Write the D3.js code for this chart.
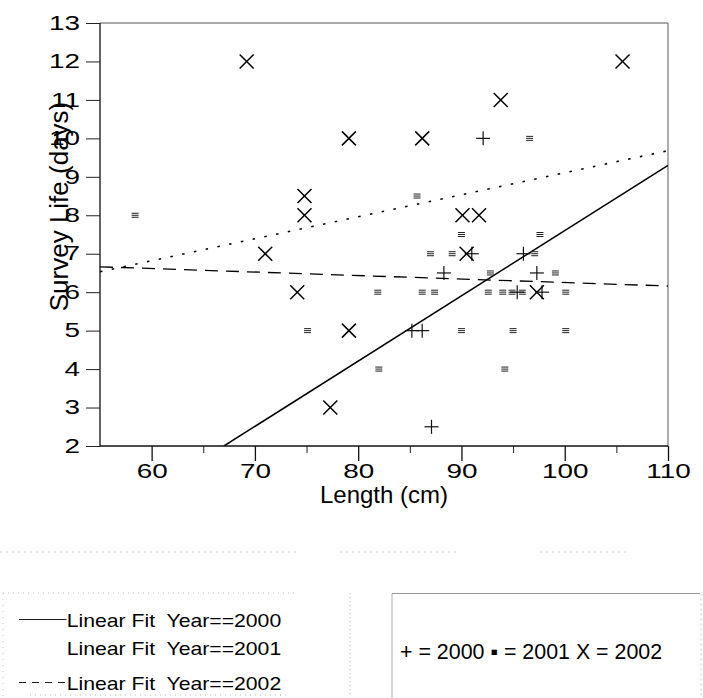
<!DOCTYPE html>
<html>
<head>
<meta charset="utf-8">
<script src="https://cdn.jsdelivr.net/npm/d3@7"></script>
<style>
  html, body { margin: 0; padding: 0; background: #fff; }
  svg { display: block; }
  text { font-family: "Liberation Sans", Arial, Helvetica, sans-serif; fill: #000; white-space: pre; }
</style>
</head>
<body>
<svg id="chart" width="703" height="698"></svg>
<script>
// ---------------- data ----------------
const xMajorTicks = [60, 70, 80, 90, 100, 110];
const xMinorTicks = [65, 75, 85, 95, 105];
const yTicks = [2, 3, 4, 5, 6, 7, 8, 9, 10, 11, 12, 13];

// Year 2000 (plus markers)
const y2000X = [92.1, 88.3, 85.2, 86.2, 87.1, 91.0, 96.0, 97.3, 95.4, 97.8];
const y2000Y = [10, 6.5, 5, 5, 2.5, 7, 7, 6.5, 6, 6];

// Year 2001 (small square markers)
const y2001X = [58.4, 85.7, 90.0, 97.6, 96.6, 87.0, 89.1, 97.1, 81.9, 86.2, 87.4, 92.8, 99.1, 92.6, 94.0, 94.9, 95.9, 100.1, 75.1, 90.0, 95.0, 100.1, 82.0, 94.2];
const y2001Y = [8, 8.5, 7.5, 7.5, 10, 7, 7, 7, 6, 6, 6, 6.5, 6.5, 6, 6, 6, 6, 6, 5, 5, 5, 5, 4, 4];

// Year 2002 (x markers)
const y2002X = [69.2, 105.6, 93.8, 79.1, 86.2, 74.8, 74.8, 90.1, 91.7, 71.0, 90.5, 74.1, 79.1, 77.3, 97.3];
const y2002Y = [12, 12, 11, 10, 10, 8.5, 8, 8, 8, 7, 7, 6, 5, 3, 6];

// Linear fits (end points)
const fit2000X = [67.0, 110];
const fit2000Y = [2.0, 9.3];
const fit2001X = [55, 110];
const fit2001Y = [6.53, 9.68];
const fit2002X = [55, 110];
const fit2002Y = [6.66, 6.16];

const fitLabels = ["Linear Fit  Year==2000", "Linear Fit  Year==2001", "Linear Fit  Year==2002"];
const markerLegend = "+ = 2000 \u25AA = 2001 X = 2002";

// ---------------- chart ----------------
const svg = d3.select("#chart");
const pLeft = 100, pRight = 668, pTop = 23, pBottom = 446;

const x = d3.scaleLinear().domain([55, 110]).range([pLeft, pRight]);
const y = d3.scaleLinear().domain([2, 13]).range([pBottom, pTop]);

svg.append("defs").append("clipPath").attr("id", "plotclip")
  .append("rect").attr("x", pLeft).attr("y", pTop)
  .attr("width", pRight - pLeft).attr("height", pBottom - pTop);

// frame: top & right gray
svg.append("line").attr("x1", pLeft).attr("x2", pRight).attr("y1", pTop).attr("y2", pTop)
  .attr("stroke", "#555").attr("stroke-width", 1);
svg.append("line").attr("x1", pRight).attr("x2", pRight).attr("y1", pTop).attr("y2", pBottom)
  .attr("stroke", "#777").attr("stroke-width", 1.2);

// y axis
const gy = svg.append("g").attr("transform", `translate(${pLeft},0)`)
  .call(d3.axisLeft(y).tickValues(yTicks).tickSize(14).tickPadding(6).tickSizeOuter(0).tickFormat(d3.format("d")));
gy.select(".domain").remove();
gy.selectAll(".tick line").attr("stroke", "#222").attr("stroke-width", 1);
gy.selectAll(".tick text")
  .style("font-size", "19.5px")
  .attr("x", -20 / 1.43)
  .attr("transform", "scale(1.43,1)");

// x axis major
const gx = svg.append("g").attr("transform", `translate(0,${pBottom})`)
  .call(d3.axisBottom(x).tickValues(xMajorTicks).tickSize(15).tickPadding(3).tickSizeOuter(0).tickFormat(d3.format("d")));
gx.select(".domain").remove();
gx.selectAll(".tick line").attr("stroke", "#111").attr("stroke-width", 1.3);
gx.selectAll(".tick text")
  .style("font-size", "19.5px")
  .attr("transform", "scale(1.43,1)");

// x minor
const gxm = svg.append("g").attr("transform", `translate(0,${pBottom})`)
  .call(d3.axisBottom(x).tickValues(xMinorTicks).tickSize(7).tickSizeOuter(0).tickFormat(""));
gxm.select(".domain").remove();
gxm.selectAll(".tick line").attr("stroke", "#222").attr("stroke-width", 1);

// axis lines
svg.append("line").attr("x1", pLeft).attr("x2", pLeft).attr("y1", pTop).attr("y2", pBottom)
  .attr("stroke", "#222").attr("stroke-width", 1.4);
svg.append("line").attr("x1", pLeft).attr("x2", pRight).attr("y1", pBottom).attr("y2", pBottom)
  .attr("stroke", "#111").attr("stroke-width", 1.4);

// titles
svg.append("text").attr("transform", `translate(68,206.5) rotate(-90)`)
  .attr("text-anchor", "middle").style("font-size", "26px").text("Survey Life (days)");
svg.append("text").attr("x", (pLeft + pRight) / 2).attr("y", 503)
  .attr("text-anchor", "middle").style("font-size", "24px").text("Length (cm)");

// fit lines
const plot = svg.append("g").attr("clip-path", "url(#plotclip)");
const line = d3.line().x(d => x(d[0])).y(d => y(d[1]));
plot.append("path").datum(d3.zip(fit2000X, fit2000Y)).attr("d", line)
  .attr("fill", "none").attr("stroke", "#000").attr("stroke-width", 1.5);
plot.append("path").datum(d3.zip(fit2001X, fit2001Y)).attr("d", line)
  .attr("fill", "none").attr("stroke", "#000").attr("stroke-width", 1.6)
  .attr("stroke-dasharray", "2.5,9.5");
plot.append("path").datum(d3.zip(fit2002X, fit2002Y)).attr("d", line)
  .attr("fill", "none").attr("stroke", "#000").attr("stroke-width", 1.3)
  .attr("stroke-dasharray", "13,8");

// markers
const m2001 = plot.append("g").selectAll("g").data(d3.zip(y2001X, y2001Y)).join("g")
  .attr("transform", d => `translate(${x(d[0])},${y(d[1])})`);
[-2, 0, 2].forEach(o => {
  m2001.append("line").attr("x1", -3.5).attr("x2", 3.5).attr("y1", o).attr("y2", o)
    .attr("stroke", "#222").attr("stroke-width", 1);
});
const m2000 = plot.append("g").selectAll("g").data(d3.zip(y2000X, y2000Y)).join("g")
  .attr("transform", d => `translate(${x(d[0])},${y(d[1])})`);
m2000.append("line").attr("x1", -7).attr("x2", 7).attr("y1", 0).attr("y2", 0).attr("stroke", "#111").attr("stroke-width", 1.2);
m2000.append("line").attr("x1", 0).attr("x2", 0).attr("y1", -7).attr("y2", 7).attr("stroke", "#111").attr("stroke-width", 1.2);
const m2002 = plot.append("g").selectAll("g").data(d3.zip(y2002X, y2002Y)).join("g")
  .attr("transform", d => `translate(${x(d[0])},${y(d[1])})`);
m2002.append("line").attr("x1", -7).attr("x2", 7).attr("y1", -7).attr("y2", 7).attr("stroke", "#000").attr("stroke-width", 1.5);
m2002.append("line").attr("x1", -7).attr("x2", 7).attr("y1", 7).attr("y2", -7).attr("stroke", "#000").attr("stroke-width", 1.5);

// ---------------- legends ----------------
// faint scan lines
[[0, 300], [340, 460], [540, 630]].forEach(s => {
  svg.append("line").attr("x1", s[0]).attr("x2", s[1]).attr("y1", 552).attr("y2", 552)
    .attr("stroke", "#ccc").attr("stroke-dasharray", "2,4");
});

// left legend box (faint)
svg.append("line").attr("x1", 3).attr("x2", 295).attr("y1", 593).attr("y2", 593)
  .attr("stroke", "#bbb").attr("stroke-dasharray", "1,4");
svg.append("line").attr("x1", 3).attr("x2", 3).attr("y1", 593).attr("y2", 697)
  .attr("stroke", "#ccc").attr("stroke-dasharray", "1,5");
svg.append("line").attr("x1", 350).attr("x2", 350).attr("y1", 593).attr("y2", 697)
  .attr("stroke", "#bbb").attr("stroke-dasharray", "1,3");
svg.append("line").attr("x1", 30).attr("x2", 290).attr("y1", 695).attr("y2", 695)
  .attr("stroke", "#bbb").attr("stroke-dasharray", "1,4");

const legY = [627, 655, 690];
const legDash = [null, "2,8", "7,6"];
legY.forEach((by, i) => {
  if (i !== 1) {
    svg.append("line").attr("x1", 19).attr("x2", 66.5).attr("y1", by - 7.5).attr("y2", by - 7.5)
      .attr("stroke", "#222").attr("stroke-width", 1)
      .attr("stroke-dasharray", legDash[i]);
  }
  svg.append("text").attr("transform", `translate(66.7,${by}) scale(1.14,1)`)
    .style("font-size", "18.6px").text(fitLabels[i]);
});

// right legend box
svg.append("line").attr("x1", 392).attr("x2", 700).attr("y1", 593.5).attr("y2", 593.5)
  .attr("stroke", "#999").attr("stroke-width", 1);
svg.append("line").attr("x1", 392).attr("x2", 392).attr("y1", 593.5).attr("y2", 698)
  .attr("stroke", "#aaa").attr("stroke-width", 1);
svg.append("line").attr("x1", 701).attr("x2", 701).attr("y1", 593.5).attr("y2", 698)
  .attr("stroke", "#ccc").attr("stroke-width", 1).attr("stroke-dasharray", "2,3");
svg.append("text").attr("x", 400).attr("y", 659).style("font-size", "21.4px").text(markerLegend);
</script>
</body>
</html>
